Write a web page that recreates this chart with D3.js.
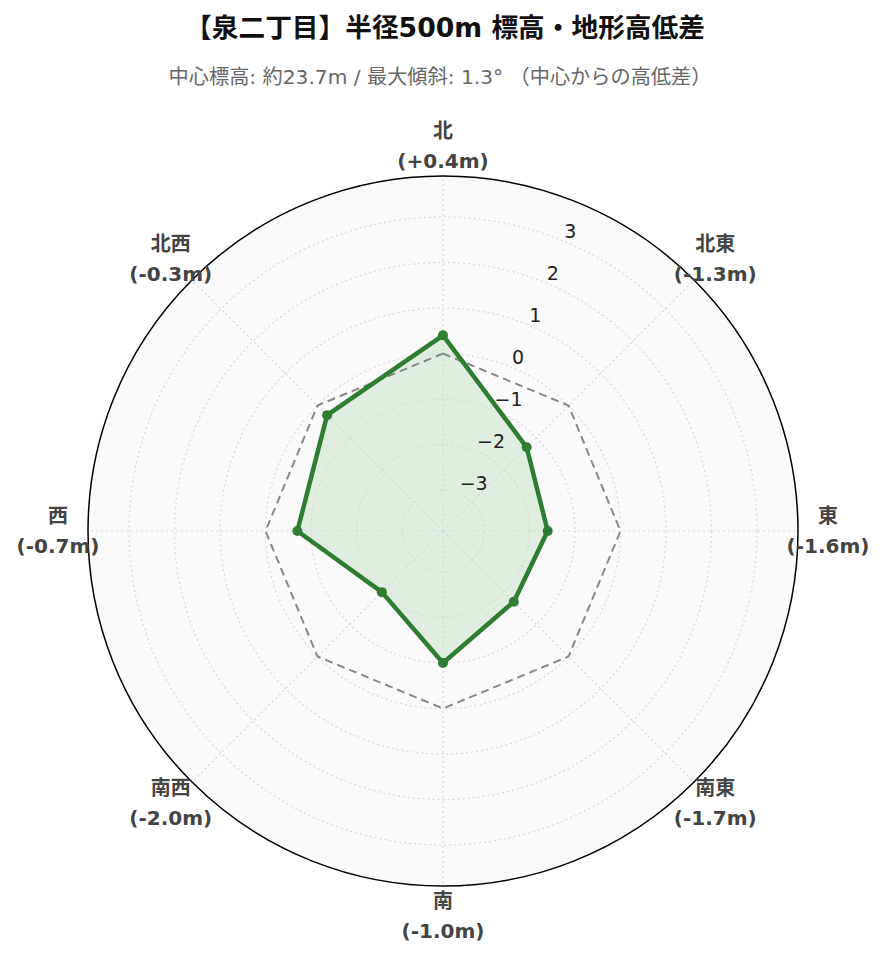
<!DOCTYPE html>
<html>
<head>
<meta charset="utf-8">
<script src="https://cdn.jsdelivr.net/npm/d3@7"></script>
<style>
  html, body { margin: 0; padding: 0; background: #ffffff; }
  svg { display: block; font-family: "DejaVu Sans", "Noto Sans CJK JP", sans-serif; }
</style>
</head>
<body>
<svg id="chart" width="885" height="962"></svg>
<script>
// ---- data ----
const directions = ["北", "北東", "東", "南東", "南", "南西", "西", "北西"];
const elevationDiff = [0.4, -1.3, -1.6, -1.7, -1.0, -2.0, -0.7, -0.3];
const referenceLevel = [0, 0, 0, 0, 0, 0, 0, 0];
const radialTicks = [-3, -2, -1, 0, 1, 2, 3];
const radialRange = [-3.9, 3.9];
const titleText = "【泉二丁目】半径500m 標高・地形高低差";
const subtitleText = "中心標高: 約23.7m / 最大傾斜: 1.3° （中心からの高低差）";

// ---- layout ----
const W = 885, H = 962;
const cx = 443, cy = 531, R = 355;
const svg = d3.select("#chart");

const r = d3.scaleLinear().domain(radialRange).range([0, R]);
const ang = d3.scalePoint().domain(directions).range([0, 2 * Math.PI * (directions.length - 1) / directions.length]);
const px = (a, rad) => cx + rad * Math.sin(a);
const py = (a, rad) => cy - rad * Math.cos(a);

// title
svg.append("text").attr("x", 445).attr("y", 27)
  .attr("text-anchor", "middle").attr("dominant-baseline", "central")
  .attr("font-size", 26.7).attr("font-weight", "bold").attr("fill", "#111")
  .text(titleText);
svg.append("text").attr("x", 440).attr("y", 77)
  .attr("text-anchor", "middle").attr("dominant-baseline", "central")
  .attr("font-size", 20.2).attr("fill", "#666")
  .text(subtitleText);

const g = svg.append("g");

// polar background
g.append("circle").attr("cx", cx).attr("cy", cy).attr("r", R).attr("fill", "#fafafa");

const lineGen = d3.lineRadial()
  .angle((d, i) => ang(directions[i]))
  .radius(d => r(d))
  .curve(d3.curveLinearClosed);

// fill of data area
g.append("path")
  .attr("transform", `translate(${cx},${cy})`)
  .attr("d", lineGen(elevationDiff))
  .attr("fill", "rgba(76,175,80,0.15)")
  .attr("stroke", "none");

// grid circles
g.selectAll("circle.grid").data(radialTicks).join("circle")
  .attr("class", "grid")
  .attr("cx", cx).attr("cy", cy).attr("r", d => r(d))
  .attr("fill", "none").attr("stroke", "#d8d8d8").attr("stroke-width", 1.2)
  .attr("stroke-dasharray", "2,3");

// spokes
g.selectAll("line.spoke").data(directions).join("line")
  .attr("class", "spoke")
  .attr("x1", cx).attr("y1", cy)
  .attr("x2", d => px(ang(d), R)).attr("y2", d => py(ang(d), R))
  .attr("stroke", "#d8d8d8").attr("stroke-width", 1.2)
  .attr("stroke-dasharray", "2,3");

// outer circle
g.append("circle").attr("cx", cx).attr("cy", cy).attr("r", R)
  .attr("fill", "none").attr("stroke", "#000").attr("stroke-width", 1.5);

// reference dashed line
g.append("path")
  .attr("transform", `translate(${cx},${cy})`)
  .attr("d", lineGen(referenceLevel))
  .attr("fill", "none").attr("stroke", "#888").attr("stroke-width", 2)
  .attr("stroke-dasharray", "8,5");

// data line
g.append("path")
  .attr("transform", `translate(${cx},${cy})`)
  .attr("d", lineGen(elevationDiff))
  .attr("fill", "none").attr("stroke", "#2e7d32").attr("stroke-width", 4.5)
  .attr("stroke-linejoin", "round");

// markers
g.selectAll("circle.pt").data(elevationDiff).join("circle")
  .attr("class", "pt")
  .attr("cx", (d, i) => px(ang(directions[i]), r(d)))
  .attr("cy", (d, i) => py(ang(directions[i]), r(d)))
  .attr("r", 5).attr("fill", "#2e7d32");

// radial tick labels
const tickAngle = Math.PI / 8;
g.selectAll("text.tick").data(radialTicks).join("text")
  .attr("class", "tick")
  .attr("x", d => px(tickAngle, r(d)) + 1)
  .attr("y", d => py(tickAngle, r(d)) - 10)
  .attr("text-anchor", "start").attr("dominant-baseline", "central")
  .attr("font-size", 19).attr("fill", "#222")
  .text(d => String(d).replace("-", "\u2212"));

// angular labels
const fmt = v => "(" + (v > 0 ? "+" : "") + v.toFixed(1) + "m)";
const lab = g.selectAll("g.alab").data(directions).join("g")
  .attr("class", "alab")
  .attr("transform", d => `translate(${px(ang(d), R + 30)},${py(ang(d), R + 30)})`);
lab.append("text").attr("y", -15)
  .attr("text-anchor", "middle").attr("dominant-baseline", "central")
  .attr("font-size", 20).attr("font-weight", "bold").attr("fill", "#444")
  .text(d => d);
lab.append("text").attr("y", 15)
  .attr("text-anchor", "middle").attr("dominant-baseline", "central")
  .attr("font-size", 20).attr("font-weight", "bold").attr("fill", "#444")
  .text((d, i) => fmt(elevationDiff[i]));
</script>
</body>
</html>
